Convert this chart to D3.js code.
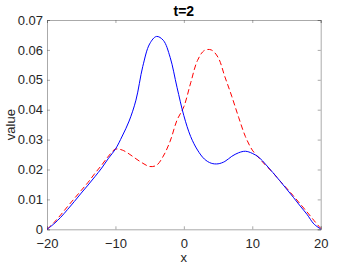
<!DOCTYPE html>
<html>
<head>
<meta charset="utf-8">
<script src="https://cdn.jsdelivr.net/npm/d3@7"></script>
<style>
  body { margin: 0; background: #fff; }
  svg { display: block; font-family: "Liberation Sans", Arial, Helvetica, sans-serif; }
</style>
</head>
<body>
<svg id="chart" width="354" height="266"></svg>
<script>
  // sample positions and the two profiles
  let xs = d3.range(-20, 21);

  let solidBlue = [
    0, 0.0018, 0.0040, 0.0066, 0.0093, 0.0121, 0.0148, 0.0176, 0.0205, 0.0238,
    0.0268, 0.0312, 0.0362, 0.0432, 0.0545, 0.0620, 0.0645, 0.0632, 0.0575, 0.0475,
    0.0380, 0.0310, 0.0265, 0.0235, 0.0221, 0.0219, 0.0227, 0.0244, 0.0256, 0.0261,
    0.0254, 0.0240, 0.0216, 0.0190, 0.0163, 0.0135, 0.0107, 0.0078, 0.0050, 0.0018,
    0.0001
  ];

  let dashedRed = [
    0, 0.0022, 0.0048, 0.0076, 0.0103, 0.0130, 0.0157, 0.0187, 0.0215, 0.0245,
    0.0268, 0.0265, 0.0252, 0.0236, 0.0221, 0.0210, 0.0214, 0.0245, 0.0295, 0.0365,
    0.0410, 0.0490, 0.0565, 0.0598, 0.0600, 0.0575, 0.0510, 0.0445, 0.0375, 0.0310,
    0.0265, 0.0238, 0.0213, 0.0190, 0.0163, 0.0138, 0.0112, 0.0085, 0.0058, 0.0030,
    0.0003
  ];

  let xTicks = [-20, -10, 0, 10, 20];
  let yTicks = [0, 0.01, 0.02, 0.03, 0.04, 0.05, 0.06, 0.07];

  let margin = {top: 20, right: 33.3, bottom: 36.7, left: 47},
      width = 354 - margin.left - margin.right,
      height = 266 - margin.top - margin.bottom;

  let x = d3.scaleLinear().domain([-20, 20]).range([0, width]);
  let y = d3.scaleLinear().domain([0, 0.07]).range([height, 0]);

  let svg = d3.select("#chart");
  let g = svg.append("g")
      .attr("transform", `translate(${margin.left}, ${margin.top})`);

  let axisColor = "#262626";

  // box style axes, ticks pointing inward
  g.append("g")
      .attr("transform", `translate(0, ${height})`)
      .call(d3.axisBottom(x).tickValues(xTicks).tickSize(-3).tickPadding(9).tickFormat(d3.format("d")));
  g.append("g")
      .call(d3.axisTop(x).tickValues(xTicks).tickSize(-3).tickFormat(""));
  g.append("g")
      .call(d3.axisLeft(y).tickValues(yTicks).tickSize(-3).tickPadding(4).tickFormat((d) => d === 0 ? "0" : d3.format(".2f")(d)));
  g.append("g")
      .attr("transform", `translate(${width}, 0)`)
      .call(d3.axisRight(y).tickValues(yTicks).tickSize(-3).tickFormat(""));

  g.selectAll(".domain, .tick line")
      .attr("stroke", "#555")
      .attr("stroke-width", 0.5);
  g.selectAll(".tick text")
      .attr("fill", axisColor)
      .style("font-size", "13px")
      .style("font-family", "'Liberation Sans', Arial, sans-serif");

  let line = (vals) => d3.line()
      .x((d, i) => x(xs[i]))
      .y((d) => y(d))
      .curve(d3.curveCatmullRom)(vals);

  g.append("path")
      .attr("d", line(dashedRed))
      .attr("fill", "none")
      .attr("stroke", "#ff0000")
      .attr("stroke-width", 1)
      .attr("stroke-dasharray", "5.5,3");

  g.append("path")
      .attr("d", line(solidBlue))
      .attr("fill", "none")
      .attr("stroke", "#0000ff")
      .attr("stroke-width", 1);

  // title and axis labels
  svg.append("text")
      .attr("x", margin.left + width / 2)
      .attr("y", 16)
      .attr("text-anchor", "middle")
      .attr("font-weight", "bold")
      .attr("font-size", 14)
      .attr("fill", "#000")
      .text("t=2");

  svg.append("text")
      .attr("x", margin.left + width / 2)
      .attr("y", 261.5)
      .attr("text-anchor", "middle")
      .attr("font-size", 13)
      .attr("fill", axisColor)
      .text("x");

  svg.append("text")
      .attr("transform", `translate(15.3, ${margin.top + height / 2}) rotate(-90)`)
      .attr("text-anchor", "middle")
      .attr("font-size", 13)
      .attr("fill", axisColor)
      .text("value");
</script>
</body>
</html>
